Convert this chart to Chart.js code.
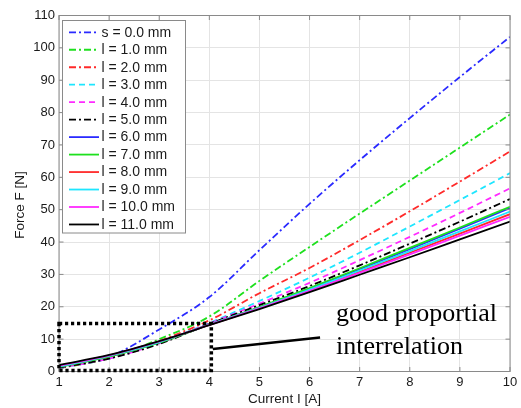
<!DOCTYPE html>
<html>
<head>
<meta charset="utf-8">
<script src="https://cdn.jsdelivr.net/npm/chart.js@4"></script>
<style>
html,body{margin:0;padding:0;background:#fff;}
#c{display:block;}
</style>
</head>
<body>
<canvas id="c" width="521" height="408"></canvas>
<script>
// ---- data ----
const currents = [1, 2, 3, 4, 5, 6, 7, 8, 9, 10];
const seriesLabels = ['s = 0.0 mm','l = 1.0 mm','l = 2.0 mm','l = 3.0 mm','l = 4.0 mm','l = 5.0 mm',
                      'l = 6.0 mm','l = 7.0 mm','l = 8.0 mm','l = 9.0 mm','l = 10.0 mm','l = 11.0 mm'];
const s00 = [1.0, 4.5, 13.0, 23.0, 37.5, 51.8, 65.3, 78.3, 91.0, 103.4];
const l01 = [1.0, 4.1, 10.0, 17.0, 28.0, 38.5, 48.8, 59.0, 69.2, 79.4];
const l02 = [1.1, 4.1, 9.4, 15.8, 24.2, 32.0, 40.6, 49.5, 58.7, 68.0];
const l03 = [1.1, 4.0, 9.0, 15.0, 21.8, 29.0, 36.7, 44.8, 53.0, 61.3];
const l04 = [1.1, 4.0, 8.7, 14.8, 21.0, 27.4, 34.4, 41.6, 49.0, 56.6];
const l05 = [1.2, 4.0, 8.5, 14.7, 20.5, 26.4, 32.8, 39.5, 46.3, 53.3];
const l06 = [1.5, 4.7, 9.0, 14.5, 19.8, 25.6, 31.6, 37.8, 44.1, 50.5];
const l07 = [1.4, 4.6, 8.9, 14.5, 19.9, 25.8, 31.9, 38.2, 44.5, 50.9];
const l08 = [1.7, 4.9, 9.2, 14.4, 19.6, 25.1, 30.8, 36.7, 42.6, 48.6];
const l09 = [1.6, 4.8, 9.1, 14.5, 19.7, 25.3, 31.2, 37.2, 43.3, 49.4];
const l10 = [1.8, 5.0, 9.3, 14.4, 19.5, 24.9, 30.5, 36.2, 42.0, 47.8];
const l11 = [2.0, 5.1, 9.4, 14.3, 19.3, 24.5, 29.9, 35.3, 40.8, 46.3];
const xTicks = [1, 2, 3, 4, 5, 6, 7, 8, 9, 10];
const yTicks = [0, 10, 20, 30, 40, 50, 60, 70, 80, 90, 100, 110];
// annotation: highlighted region (x1, x2, y1, y2) and connector (x,y)->(x,y)
const boxRegion = [1, 4.04, 0.3, 14.8];
const connector = [4.07, 6.95, 6.21, 10.5];
const noteLines = ['good proportial', 'interrelation'];

// ---- styling ----
const colors = ['#2a2aff','#1ee01e','#ff2a2a','#1ee6ff','#ff2aff','#000000',
                '#2a2aff','#1ee01e','#ff2a2a','#1ee6ff','#ff2aff','#000000'];
const dashDot = [7, 3, 2, 3];
const dashed = [6, 4];
const dashes = [dashDot, dashDot, dashDot, dashed, dashed, dashDot, [], [], [], [], [], []];
const allSeries = [s00, l01, l02, l03, l04, l05, l06, l07, l08, l09, l10, l11];

const SANS = '"Liberation Sans", Arial, Helvetica, sans-serif';
const SERIF = '"Liberation Serif", "Times New Roman", serif';

const datasets = allSeries.map((vals, i) => ({
  label: seriesLabels[i],
  data: currents.map((x, j) => ({x: x, y: vals[j]})),
  borderColor: colors[i],
  backgroundColor: colors[i],
  borderWidth: 1.8,
  borderDash: dashes[i],
  pointRadius: 0,
  fill: false,
  cubicInterpolationMode: 'monotone',
  order: 12 - i
}));

const decor = {
  id: 'decor',
  afterDatasetsDraw(chart) {
    const ctx = chart.ctx;
    const xs = chart.scales.x, ys = chart.scales.y;
    const a = chart.chartArea;
    ctx.save();
    // frame
    ctx.strokeStyle = '#8a8a8a';
    ctx.lineWidth = 1;
    ctx.setLineDash([]);
    ctx.strokeRect(a.left, a.top, a.right - a.left, a.bottom - a.top);
    // inner ticks
    ctx.beginPath();
    xTicks.forEach(v => {
      const px = xs.getPixelForValue(v);
      ctx.moveTo(px, a.bottom); ctx.lineTo(px, a.bottom - 4.5);
      ctx.moveTo(px, a.top); ctx.lineTo(px, a.top + 4.5);
    });
    yTicks.forEach(v => {
      const py = ys.getPixelForValue(v);
      ctx.moveTo(a.left, py); ctx.lineTo(a.left + 4.5, py);
      ctx.moveTo(a.right, py); ctx.lineTo(a.right - 4.5, py);
    });
    ctx.stroke();

    // legend
    const lx = 62.5, ly = 20.5, lw = 123, lh = 212.5, rowH = 17.47;
    ctx.fillStyle = '#ffffff';
    ctx.fillRect(lx, ly, lw, lh);
    ctx.strokeStyle = '#8a8a8a';
    ctx.lineWidth = 1;
    ctx.strokeRect(lx, ly, lw, lh);
    ctx.font = '14px ' + SANS;
    ctx.textBaseline = 'middle';
    ctx.textAlign = 'left';
    chart.data.datasets.forEach((ds, i) => {
      const y = 32.3 + i * rowH;
      ctx.strokeStyle = ds.borderColor;
      ctx.lineWidth = 1.8;
      ctx.setLineDash(ds.borderDash);
      ctx.beginPath(); ctx.moveTo(69, y); ctx.lineTo(99, y); ctx.stroke();
      ctx.setLineDash([]);
      ctx.fillStyle = '#1a1a1a';
      ctx.fillText(ds.label, 101.5, y + 0.5);
    });

    // dotted highlight box
    const bx1 = xs.getPixelForValue(boxRegion[0]), bx2 = xs.getPixelForValue(boxRegion[1]);
    const by1 = ys.getPixelForValue(boxRegion[2]), by2 = ys.getPixelForValue(boxRegion[3]);
    ctx.strokeStyle = '#000';
    ctx.lineWidth = 3.5;
    ctx.setLineDash([3.2, 2.8]);
    ctx.strokeRect(bx1, by2, bx2 - bx1, by1 - by2);
    ctx.setLineDash([]);
    // connector
    ctx.lineWidth = 2.5;
    ctx.beginPath();
    ctx.moveTo(xs.getPixelForValue(connector[0]), ys.getPixelForValue(connector[1]));
    ctx.lineTo(xs.getPixelForValue(connector[2]), ys.getPixelForValue(connector[3]));
    ctx.stroke();
    // note text
    ctx.fillStyle = '#000';
    ctx.font = '26px ' + SERIF;
    ctx.textBaseline = 'middle';
    ctx.fillText(noteLines[0], 336, 314);
    ctx.fillText(noteLines[1], 336, 347);

    // axis titles
    ctx.fillStyle = '#1a1a1a';
    ctx.font = '13.5px ' + SANS;
    ctx.textAlign = 'center';
    ctx.fillText('Current I [A]', (a.left + a.right) / 2, 399.5);
    ctx.translate(20.5, 205);
    ctx.rotate(-Math.PI / 2);
    ctx.fillText('Force F [N]', 0, 0);
    ctx.restore();
  }
};

new Chart(document.getElementById('c'), {
  type: 'line',
  data: { datasets: datasets },
  options: {
    responsive: false,
    animation: false,
    layout: { padding: { left: 0, right: 11, top: 15.5, bottom: 0 } },
    plugins: { legend: { display: false }, tooltip: { enabled: false } },
    scales: {
      x: {
        type: 'linear', min: 1, max: 10,
        afterFit(s) { s.height = 36.5; },
        afterBuildTicks(s) { s.ticks = xTicks.map(v => ({value: v})); },
        ticks: { padding: 3, color: '#1a1a1a', font: { size: 13, family: SANS }, maxRotation: 0 },
        grid: { color: '#e4e4e4', drawTicks: false },
        border: { display: false }
      },
      y: {
        type: 'linear', min: 0, max: 110,
        afterFit(s) { s.width = 59; },
        afterBuildTicks(s) { s.ticks = yTicks.map(v => ({value: v})); },
        ticks: { padding: 4, color: '#1a1a1a', font: { size: 13, family: SANS } },
        grid: { color: '#e4e4e4', drawTicks: false },
        border: { display: false }
      }
    }
  },
  plugins: [decor]
});
</script>
</body>
</html>
